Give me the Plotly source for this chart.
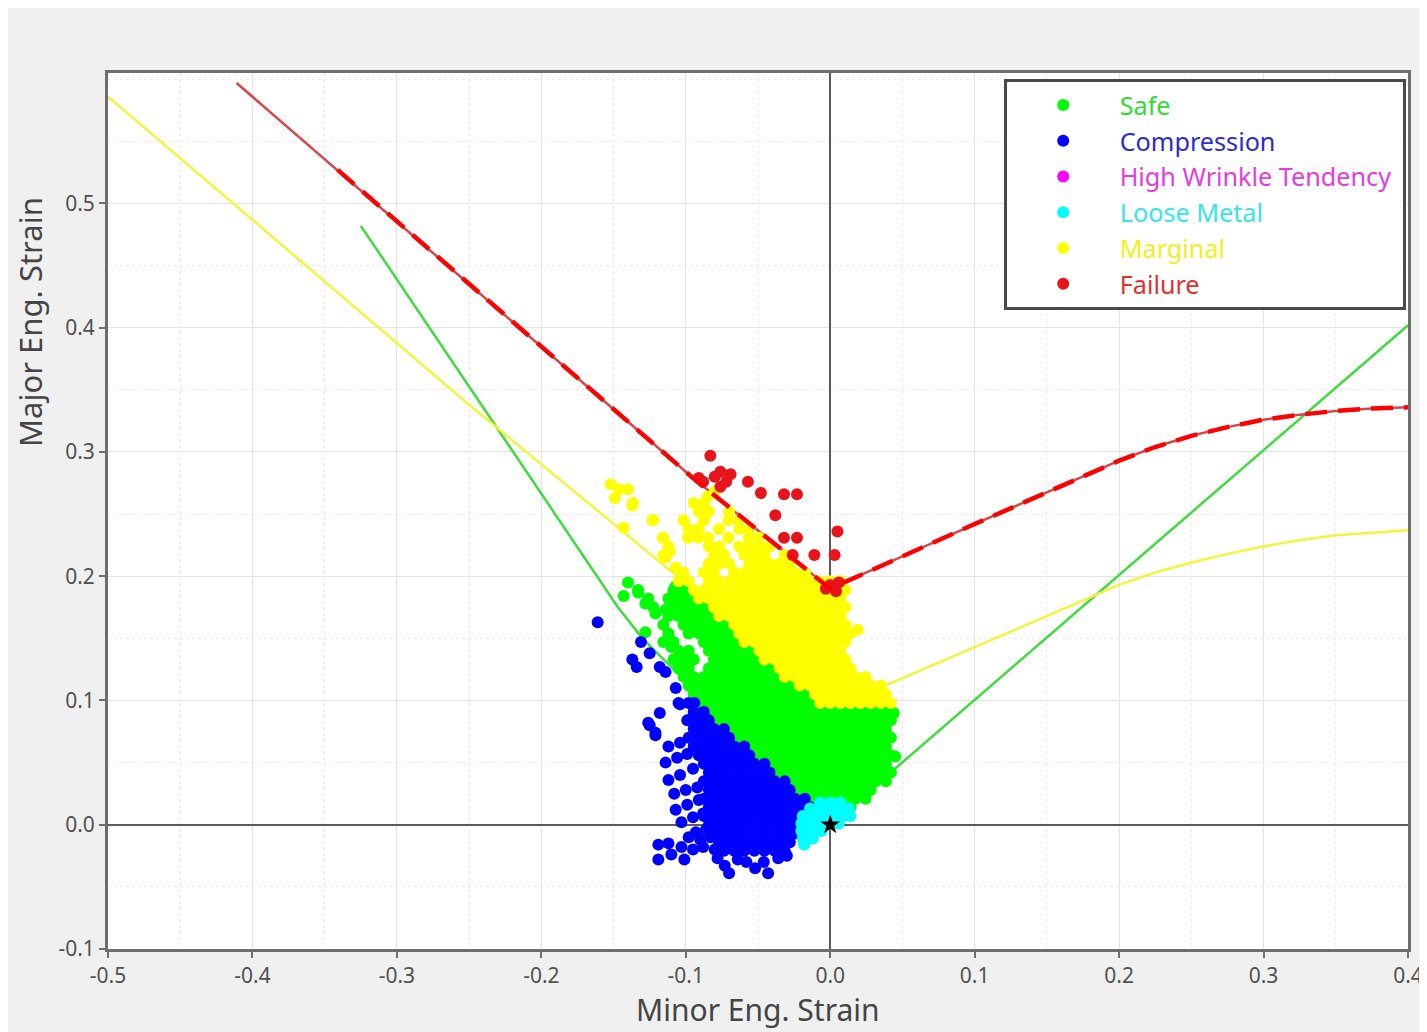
import plotly.graph_objects as go

# ---------------- axis ticks ----------------
X_TICKS = [-0.5, -0.4, -0.3, -0.2, -0.1, 0.0, 0.1, 0.2, 0.3, 0.4]
X_TICK_LABELS = ["-0.5", "-0.4", "-0.3", "-0.2", "-0.1", "0.0", "0.1", "0.2", "0.3", "0.4"]
Y_TICKS = [-0.1, 0.0, 0.1, 0.2, 0.3, 0.4, 0.5]
Y_TICK_LABELS = ["-0.1", "0.0", "0.1", "0.2", "0.3", "0.4", "0.5"]

# ---------------- limit curves ----------------
FAILURE_X = [-0.411, -0.095, 0.0, 0.1, 0.2, 0.225, 0.25, 0.275, 0.3, 0.325, 0.35, 0.375, 0.4]
FAILURE_Y = [0.597, 0.279, 0.19, 0.242, 0.293, 0.304, 0.313, 0.320, 0.326, 0.330, 0.333, 0.335, 0.336]
FAILURE_DASH_X = [-0.341, -0.095, 0.0, 0.1, 0.2, 0.225, 0.25, 0.275, 0.3, 0.325, 0.35, 0.375, 0.4]
FAILURE_DASH_Y = [0.527, 0.279, 0.19, 0.242, 0.293, 0.304, 0.313, 0.320, 0.326, 0.330, 0.333, 0.335, 0.336]
MARGINAL_LINE_X = [-0.5, -0.25, -0.106, 0.0, 0.1, 0.2, 0.225, 0.25, 0.275, 0.3, 0.325, 0.35, 0.375, 0.4]
MARGINAL_LINE_Y = [0.586, 0.338, 0.200, 0.093, 0.143, 0.193, 0.203, 0.211, 0.218, 0.224, 0.229, 0.233, 0.235, 0.237]
SAFE_LINE_X = [-0.325, -0.147, -0.13, 0.0, 0.4]
SAFE_LINE_Y = [0.482, 0.175, 0.150, 0.0, 0.402]

# ---------------- strain points (rows: minor strain values at a given major strain) ----------------
SAFE_ROWS = [
    (0.014, [-0.007, 0.0, 0.007, 0.014]),
    (0.021, [-0.0105, -0.0035, 0.0035, 0.0105, 0.0175, 0.0245]),
    (0.028, [-0.021, -0.014, -0.007, 0.0, 0.007, 0.014, 0.021, 0.028]),
    (0.035, [-0.0245, -0.0175, -0.0105, -0.0035, 0.0035, 0.0105, 0.0175, 0.0245, 0.0315, 0.0385]),
    (0.042, [-0.035, -0.028, -0.021, -0.014, -0.007, 0.0, 0.007, 0.014, 0.021, 0.028, 0.035, 0.042]),
    (0.049, [-0.0385, -0.0315, -0.0245, -0.0175, -0.0105, -0.0035, 0.0035, 0.0105, 0.0175, 0.0245, 0.0315, 0.0385]),
    (0.056, [-0.049, -0.042, -0.035, -0.028, -0.021, -0.014, -0.007, 0.0, 0.007, 0.014, 0.021, 0.028, 0.035, 0.042]),
    (0.063, [-0.0525, -0.0455, -0.0385, -0.0315, -0.0245, -0.0175, -0.0105, -0.0035, 0.0035, 0.0105, 0.0175, 0.0245, 0.0315, 0.0385]),
    (0.070, [-0.063, -0.056, -0.049, -0.042, -0.035, -0.028, -0.021, -0.014, -0.007, 0.0, 0.007, 0.014, 0.021, 0.028, 0.035, 0.042]),
    (0.077, [-0.0665, -0.0595, -0.0525, -0.0455, -0.0385, -0.0315, -0.0245, -0.0175, -0.0105, -0.0035, 0.0035, 0.0105, 0.0175, 0.0245, 0.0315, 0.0385]),
    (0.084, [-0.077, -0.070, -0.063, -0.056, -0.049, -0.042, -0.035, -0.028, -0.021, -0.014, -0.007, 0.0, 0.007, 0.014, 0.021, 0.028, 0.035, 0.042]),
    (0.091, [-0.0805, -0.0735, -0.0665, -0.0595, -0.0525, -0.0455, -0.0385, -0.0315, -0.0245, -0.0175, -0.0105, -0.0035, 0.0035, 0.0105, 0.0175, 0.0245, 0.0315, 0.0385]),
    (0.098, [-0.091, -0.084, -0.077, -0.070, -0.063, -0.056, -0.049, -0.042, -0.035, -0.028, -0.021, -0.014]),
    (0.105, [-0.0945, -0.0875, -0.0805, -0.0735, -0.0665, -0.0595, -0.0525, -0.0455, -0.0385, -0.0315, -0.0245, -0.0175]),
    (0.112, [-0.098, -0.091, -0.084, -0.077, -0.070, -0.063, -0.056, -0.049, -0.042, -0.035, -0.028]),
    (0.119, [-0.1015, -0.0945, -0.0875, -0.0805, -0.0735, -0.0665, -0.0595, -0.0525, -0.0455, -0.0385]),
    (0.126, [-0.105, -0.098, -0.084, -0.077, -0.070, -0.063, -0.056, -0.049, -0.042]),
    (0.133, [-0.1085, -0.0945, -0.0805, -0.0735, -0.0665, -0.0595, -0.0525]),
    (0.140, [-0.105, -0.098, -0.084, -0.077, -0.070, -0.063, -0.056]),
    (0.147, [-0.1155, -0.1085, -0.0875, -0.0805, -0.0735, -0.0665]),
    (0.154, [-0.112, -0.098, -0.091, -0.084, -0.077, -0.070]),
    (0.161, [-0.1155, -0.1015, -0.0945, -0.0875, -0.0805, -0.0735]),
    (0.168, [-0.112, -0.105, -0.098, -0.091, -0.084]),
    (0.175, [-0.1225, -0.1085, -0.1015, -0.0945, -0.0875]),
    (0.182, [-0.126, -0.112, -0.105, -0.098]),
    (0.189, [-0.133, -0.1085, -0.1015]),
]
SAFE_EXTRA_X = [-0.140, -0.143, -0.133, -0.128, -0.121, -0.128, -0.114, -0.107, -0.110, -0.101, -0.097, -0.092, 0.044, 0.045]
SAFE_EXTRA_Y = [0.195, 0.184, 0.187, 0.178, 0.170, 0.155, 0.173, 0.192, 0.143, 0.133, 0.119, 0.111, 0.090, 0.055]

COMPRESSION_ROWS = [
    (-0.021, [-0.0735, -0.0665, -0.0595, -0.0525, -0.0455, -0.0385, -0.0315]),
    (-0.014, [-0.077, -0.070, -0.063, -0.056, -0.049, -0.042, -0.035, -0.028]),
    (-0.007, [-0.0805, -0.0735, -0.0665, -0.0595, -0.0525, -0.0455, -0.0385, -0.0315, -0.0245]),
    (0.000, [-0.084, -0.077, -0.070, -0.063, -0.056, -0.049, -0.042, -0.035, -0.028, -0.021]),
    (0.007, [-0.0875, -0.0805, -0.0735, -0.0665, -0.0595, -0.0525, -0.0455, -0.0385, -0.0315, -0.0245, -0.0175]),
    (0.014, [-0.084, -0.077, -0.070, -0.063, -0.056, -0.049, -0.042, -0.035, -0.028, -0.021, -0.014]),
    (0.021, [-0.0875, -0.0805, -0.0735, -0.0665, -0.0595, -0.0525, -0.0455, -0.0385, -0.0315, -0.0245, -0.0175]),
    (0.028, [-0.084, -0.077, -0.070, -0.063, -0.056, -0.049, -0.042, -0.035, -0.028]),
    (0.035, [-0.0875, -0.0805, -0.0735, -0.0665, -0.0595, -0.0525, -0.0455, -0.0385, -0.0315]),
    (0.042, [-0.084, -0.077, -0.070, -0.063, -0.056, -0.049, -0.042]),
    (0.049, [-0.0875, -0.0805, -0.0735, -0.0665, -0.0595, -0.0525, -0.0455]),
    (0.056, [-0.091, -0.084, -0.077, -0.070, -0.063, -0.056]),
    (0.063, [-0.0945, -0.0875, -0.0805, -0.0735, -0.0665, -0.0595]),
    (0.070, [-0.091, -0.084, -0.077, -0.070]),
    (0.077, [-0.0945, -0.0875, -0.0805, -0.0735]),
    (0.084, [-0.098, -0.091, -0.084]),
    (0.091, [-0.0945, -0.0875]),
    (0.098, [-0.098]),
]
COMPRESSION_EXTRA_X = [-0.161, -0.131, -0.125, -0.137, -0.134, -0.118, -0.114, -0.107, -0.104, -0.118, -0.125,
                       -0.121, -0.094, -0.105, -0.126, -0.121, -0.099, -0.112, -0.104, -0.098, -0.114, -0.106,
                       -0.099, -0.112, -0.104, -0.095, -0.108, -0.100, -0.092, -0.107, -0.099, -0.091, -0.103,
                       -0.095, -0.088, -0.093, -0.086, -0.098, -0.090, -0.083, -0.119, -0.112, -0.103, -0.119,
                       -0.110, -0.101, -0.095, -0.088, -0.080, -0.078, -0.073, -0.070, -0.058, -0.052, -0.046,
                       -0.043, -0.064, -0.036, -0.030]
COMPRESSION_EXTRA_Y = [0.163, 0.147, 0.138, 0.133, 0.127, 0.127, 0.123, 0.110, 0.097, 0.090, 0.080,
                       0.074, 0.098, 0.098, 0.082, 0.072, 0.084, 0.063, 0.066, 0.070, 0.050, 0.054,
                       0.057, 0.036, 0.040, 0.045, 0.025, 0.028, 0.030, 0.012, 0.016, 0.020, 0.002,
                       0.006, 0.009, -0.006, -0.004, -0.010, -0.012, -0.010, -0.016, -0.015, -0.018, -0.028,
                       -0.024, -0.028, -0.020, -0.018, -0.020, -0.027, -0.033, -0.039, -0.030, -0.035, -0.030,
                       -0.039, -0.028, -0.027, -0.025]

WRINKLE_X = [None]
WRINKLE_Y = [None]

LOOSE_ROWS = [
    (0.018, [-0.007, 0.0, 0.007]),
    (0.013, [-0.014, -0.007, 0.0, 0.007, 0.013]),
    (0.007, [-0.019, -0.012, -0.005, 0.002, 0.009, 0.014]),
    (0.001, [-0.020, -0.013, -0.006, 0.001, 0.006]),
    (-0.005, [-0.020, -0.013, -0.006]),
    (-0.011, [-0.019, -0.012]),
    (-0.016, [-0.018]),
]

MARGINAL_ROWS = [
    (0.098, [-0.007, 0.0, 0.007, 0.014, 0.021, 0.028, 0.035, 0.042]),
    (0.105, [-0.0105, -0.0035, 0.0035, 0.0105, 0.0175, 0.0245, 0.0315, 0.0385]),
    (0.112, [-0.021, -0.014, -0.007, 0.0, 0.007, 0.014, 0.021, 0.028, 0.035]),
    (0.119, [-0.0315, -0.0245, -0.0175, -0.0105, -0.0035, 0.0035, 0.0105, 0.0175, 0.0245]),
    (0.126, [-0.035, -0.028, -0.021, -0.014, -0.007, 0.0, 0.007, 0.014]),
    (0.133, [-0.0455, -0.0385, -0.0315, -0.0245, -0.0175, -0.0105, -0.0035, 0.0035, 0.0105]),
    (0.140, [-0.049, -0.042, -0.035, -0.028, -0.021, -0.014, -0.007, 0.0, 0.007]),
    (0.147, [-0.0595, -0.0525, -0.0455, -0.0385, -0.0315, -0.0245, -0.0175, -0.0105, -0.0035, 0.0035, 0.0105]),
    (0.154, [-0.063, -0.056, -0.049, -0.042, -0.035, -0.028, -0.021, -0.014, -0.007, 0.0, 0.007, 0.014]),
    (0.161, [-0.0665, -0.0595, -0.0525, -0.0455, -0.0385, -0.0315, -0.0245, -0.0175, -0.0105, -0.0035, 0.0035, 0.0105]),
    (0.168, [-0.077, -0.070, -0.063, -0.056, -0.049, -0.042, -0.035, -0.028, -0.021, -0.014, -0.007, 0.0, 0.007]),
    (0.175, [-0.0805, -0.0735, -0.0665, -0.0595, -0.0525, -0.0455, -0.0385, -0.0315, -0.0245, -0.0175, -0.0105, -0.0035, 0.0035, 0.0105]),
    (0.182, [-0.091, -0.084, -0.077, -0.070, -0.063, -0.056, -0.049, -0.042, -0.035, -0.028, -0.021, -0.014, -0.007, 0.0, 0.007]),
    (0.189, [-0.0945, -0.0875, -0.0805, -0.0735, -0.0665, -0.0595, -0.0525, -0.0455, -0.0385, -0.0315, -0.0245, -0.0175, -0.0105, -0.0035, 0.0035, 0.0105]),
    (0.196, [-0.105, -0.098, -0.084, -0.077, -0.070, -0.063, -0.056, -0.049, -0.042, -0.035, -0.028, -0.021, -0.014, -0.007, 0.0, 0.007]),
    (0.203, [-0.1015, -0.0875, -0.0805, -0.0665, -0.0595, -0.0525, -0.0455, -0.0385, -0.0315, -0.0245, -0.0175]),
    (0.210, [-0.084, -0.077, -0.070, -0.056, -0.049, -0.042, -0.035, -0.028]),
    (0.217, [-0.1155, -0.0805, -0.0735, -0.0595, -0.0525, -0.0455, -0.0315]),
    (0.224, [-0.112, -0.084, -0.077, -0.063, -0.056, -0.049, -0.042]),
    (0.231, [-0.1155, -0.0985, -0.0915, -0.0845, -0.0705, -0.0565, -0.0495]),
    (0.238, [-0.098, -0.091, -0.077, -0.063, -0.056]),
    (0.245, [-0.1225, -0.1015, -0.0875, -0.0705, -0.0635]),
    (0.252, [-0.091, -0.084, -0.070]),
    (0.259, [-0.1365, -0.0945, -0.0875]),
]
MARGINAL_EXTRA_X = [-0.152, -0.146, -0.140, -0.149, -0.137, -0.123, -0.143, -0.116, -0.111, -0.114, -0.107, -0.102, -0.080, -0.085, 0.019]
MARGINAL_EXTRA_Y = [0.274, 0.270, 0.270, 0.263, 0.257, 0.245, 0.239, 0.231, 0.220, 0.215, 0.207, 0.203, 0.268, 0.264, 0.157]

FAILURE_PTS_X = [-0.083, -0.080, -0.076, -0.069, -0.088, -0.076, -0.057, -0.048, -0.032, -0.023, -0.038, -0.032,
                 -0.023, -0.026, -0.011, 0.005, 0.003, 0.0, 0.006, -0.003, 0.004, -0.091, -0.072]
FAILURE_PTS_Y = [0.297, 0.280, 0.284, 0.282, 0.276, 0.272, 0.276, 0.267, 0.266, 0.266, 0.249, 0.231,
                 0.231, 0.217, 0.217, 0.236, 0.217, 0.193, 0.195, 0.190, 0.188, 0.279, 0.276]

ORIGIN_X = [0.0]
ORIGIN_Y = [0.0]


def flatten(rows, ex_x=(), ex_y=()):
    xs, ys = [], []
    for yv, row in rows:
        for xv in row:
            xs.append(xv)
            ys.append(yv)
    xs += list(ex_x)
    ys += list(ex_y)
    return xs, ys


safe_x, safe_y = flatten(SAFE_ROWS, SAFE_EXTRA_X, SAFE_EXTRA_Y)
comp_x, comp_y = flatten(COMPRESSION_ROWS, COMPRESSION_EXTRA_X, COMPRESSION_EXTRA_Y)
loose_x, loose_y = flatten(LOOSE_ROWS)
marg_x, marg_y = flatten(MARGINAL_ROWS, MARGINAL_EXTRA_X, MARGINAL_EXTRA_Y)

FONT = "Noto Sans"
MS = 12

fig = go.Figure()

# limit curves (under the points)
fig.add_trace(go.Scatter(x=SAFE_LINE_X, y=SAFE_LINE_Y, mode="lines", line=dict(color="#3fdc3f", width=2.5),
                         showlegend=False, hoverinfo="skip"))
fig.add_trace(go.Scatter(x=MARGINAL_LINE_X, y=MARGINAL_LINE_Y, mode="lines", line=dict(color="#f4f43c", width=2.5),
                         showlegend=False, hoverinfo="skip"))
fig.add_trace(go.Scatter(x=FAILURE_X, y=FAILURE_Y, mode="lines", line=dict(color="#d8454a", width=2.5),
                         showlegend=False, hoverinfo="skip"))

legend_specs = [
    ("Safe", safe_x, safe_y, "#00ff00", "#2fdc2f"),
    ("Compression", comp_x, comp_y, "#0000ff", "#2b2bd0"),
    ("High Wrinkle Tendency\u00a0", WRINKLE_X, WRINKLE_Y, "#ff00ff", "#e23ce2"),
    ("Loose Metal", loose_x, loose_y, "#00ffff", "#36e6e6"),
    ("Marginal", marg_x, marg_y, "#ffff00", "#f0f020"),
    ("Failure", FAILURE_PTS_X, FAILURE_PTS_Y, "#e8141c", "#e03030"),
]
for i, (name, xs, ys, col, tcol) in enumerate(legend_specs):
    fig.add_trace(go.Scatter(
        x=xs, y=ys, mode="markers",
        name="<span style='color:%s'>%s</span>" % (tcol, name),
        legendgroup="g%d" % i, showlegend=True,
        marker=dict(color=col, size=MS, line=dict(width=0)),
    ))

fig.add_trace(go.Scatter(x=FAILURE_DASH_X, y=FAILURE_DASH_Y, mode="lines",
                         line=dict(color="#ff0000", width=4.5, dash="22px,11px"),
                         showlegend=False, hoverinfo="skip"))
fig.add_trace(go.Scatter(x=ORIGIN_X, y=ORIGIN_Y, mode="markers",
                         marker=dict(symbol="star", color="black", size=15),
                         showlegend=False, hoverinfo="skip"))

axis_common = dict(
    showline=True, linecolor="#6e6e6e", linewidth=3, mirror=True,
    ticks="outside", ticklen=6, tickcolor="#6e6e6e", tickwidth=1.5,
    showgrid=True, gridcolor="#e4e4e4", gridwidth=1,
    zeroline=True, zerolinecolor="#5a5a5a", zerolinewidth=2,
    tickfont=dict(family=FONT, size=21, color="#505050"),
    tickmode="array",
)

fig.update_layout(
    width=1427, height=1032,
    margin=dict(l=100, r=22, t=65, b=91),
    paper_bgcolor="#f0f0f0", plot_bgcolor="white",
    font=dict(family=FONT),
    showlegend=True,
    legend=dict(
        x=0.689, y=0.993, xanchor="left", yanchor="top",
        bgcolor="white", bordercolor="#4a4a4a", borderwidth=3,
        font=dict(family=FONT, size=25.2),
        itemwidth=103, tracegroupgap=0,
    ),
    xaxis=dict(range=[-0.5, 0.4], tickvals=X_TICKS, ticktext=X_TICK_LABELS,
               minor=dict(tickmode="linear", tick0=-0.5, dtick=0.05, showgrid=True,
                          gridcolor="#ececec", griddash="dot", ticks=""),
               **axis_common),
    yaxis=dict(range=[-0.1, 0.605], tickvals=Y_TICKS, ticktext=Y_TICK_LABELS,
               minor=dict(tickmode="linear", tick0=-0.1, dtick=0.05, showgrid=True,
                          gridcolor="#ececec", griddash="dot", ticks=""),
               **axis_common),
    annotations=[
        dict(text="Minor Eng. Strain", xref="paper", yref="paper", x=0.5, y=-0.0695,
             xanchor="center", yanchor="middle", showarrow=False,
             font=dict(family=FONT, size=30, color="#444444")),
        dict(text="Major Eng. Strain", xref="paper", yref="paper", x=-0.0598, y=0.716,
             xanchor="center", yanchor="middle", textangle=-90, showarrow=False,
             font=dict(family=FONT, size=31, color="#444444")),
    ],
)

fig.write_html("out.html")
